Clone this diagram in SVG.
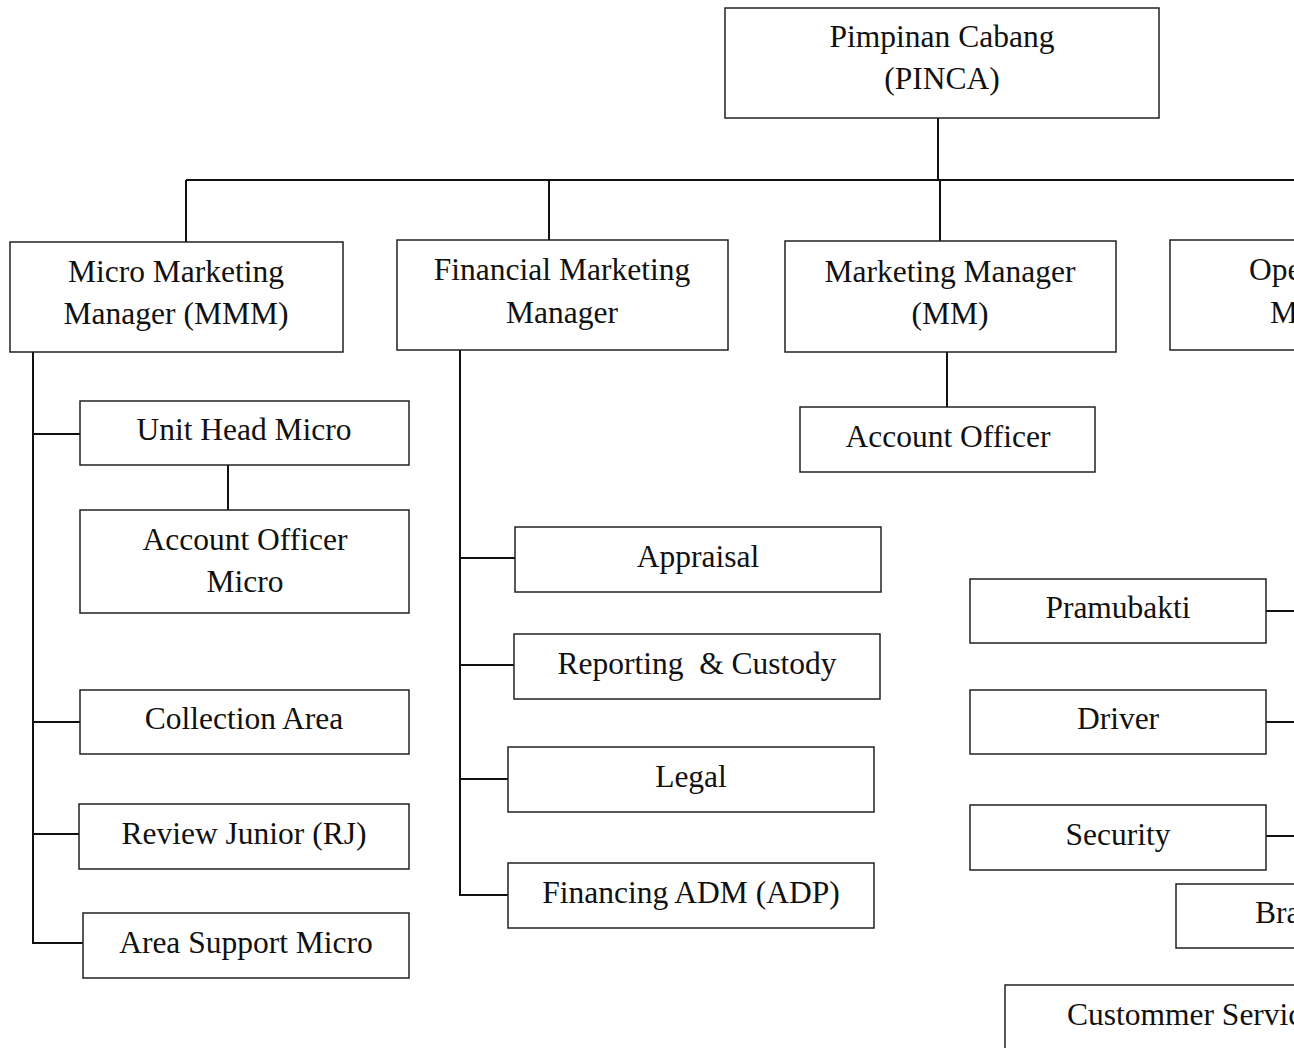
<svg xmlns="http://www.w3.org/2000/svg" width="1294" height="1048" viewBox="0 0 1294 1048">
<style>
.box{fill:#fff;stroke:#222;stroke-width:1.5}
.lbl{font-family:"Liberation Serif","Times New Roman",serif;font-size:31.5px;fill:#111;text-anchor:middle;white-space:pre}
.ls{text-anchor:start}
.conn{stroke:#111;stroke-width:2;fill:none}
</style>
<rect width="1294" height="1048" fill="#fff"/>
<g id="connectors">
<path class="conn" d="M938 118V180M186 180H1294M186 180V242M549 180V240M940 180V241"/>
<path class="conn" d="M33 352V943H83M33 434H80M33 722H80M33 834H79"/>
<path class="conn" d="M228 465V510"/>
<path class="conn" d="M460 350V895H508M460 558H515M460 665H514M460 779H508"/>
<path class="conn" d="M947 352V407"/>
<path class="conn" d="M1266 611H1294M1266 722H1294M1266 836H1294"/>
</g>
<g id="pinca"><rect class="box" x="725" y="8" width="434" height="110"/><text class="lbl" x="942" y="47">Pimpinan Cabang</text><text class="lbl" x="942" y="89">(PINCA)</text></g>
<g id="mmm"><rect class="box" x="10" y="242" width="333" height="110"/><text class="lbl" x="176" y="282">Micro Marketing</text><text class="lbl" x="176" y="324">Manager (MMM)</text></g>
<g id="fmm"><rect class="box" x="397" y="240" width="331" height="110"/><text class="lbl" x="562" y="280">Financial Marketing</text><text class="lbl" x="562" y="323">Manager</text></g>
<g id="mm"><rect class="box" x="785" y="241" width="331" height="111"/><text class="lbl" x="950" y="282">Marketing Manager</text><text class="lbl" x="950" y="324">(MM)</text></g>
<g id="om"><rect class="box" x="1170" y="240" width="140" height="110"/><text class="lbl ls" x="1249" y="280">Operational</text><text class="lbl ls" x="1270" y="323">Manager</text></g>
<g id="ao"><rect class="box" x="800" y="407" width="295" height="65"/><text class="lbl" x="948" y="447">Account Officer</text></g>
<g id="uhm"><rect class="box" x="80" y="401" width="329" height="64"/><text class="lbl" x="244" y="440">Unit Head Micro</text></g>
<g id="aom"><rect class="box" x="80" y="510" width="329" height="103"/><text class="lbl" x="245" y="550">Account Officer</text><text class="lbl" x="245" y="592">Micro</text></g>
<g id="ca"><rect class="box" x="80" y="690" width="329" height="64"/><text class="lbl" x="244" y="729">Collection Area</text></g>
<g id="rj"><rect class="box" x="79" y="804" width="330" height="65"/><text class="lbl" x="244" y="844">Review Junior (RJ)</text></g>
<g id="asm"><rect class="box" x="83" y="913" width="326" height="65"/><text class="lbl" x="246" y="953">Area Support Micro</text></g>
<g id="appraisal"><rect class="box" x="515" y="527" width="366" height="65"/><text class="lbl" x="698" y="567">Appraisal</text></g>
<g id="rc"><rect class="box" x="514" y="634" width="366" height="65"/><text class="lbl" x="697" y="674">Reporting  &amp; Custody</text></g>
<g id="legal"><rect class="box" x="508" y="747" width="366" height="65"/><text class="lbl" x="691" y="787">Legal</text></g>
<g id="adp"><rect class="box" x="508" y="863" width="366" height="65"/><text class="lbl" x="691" y="903">Financing ADM (ADP)</text></g>
<g id="pramubakti"><rect class="box" x="970" y="579" width="296" height="64"/><text class="lbl" x="1118" y="618">Pramubakti</text></g>
<g id="driver"><rect class="box" x="970" y="690" width="296" height="64"/><text class="lbl" x="1118" y="729">Driver</text></g>
<g id="security"><rect class="box" x="970" y="805" width="296" height="65"/><text class="lbl" x="1118" y="845">Security</text></g>
<g id="branch"><rect class="box" x="1176" y="884" width="200" height="64"/><text class="lbl ls" x="1255" y="923">Branch</text></g>
<g id="cs"><rect class="box" x="1005" y="985" width="400" height="100"/><text class="lbl ls" x="1067" y="1025">Custommer Service</text></g>
</svg>
